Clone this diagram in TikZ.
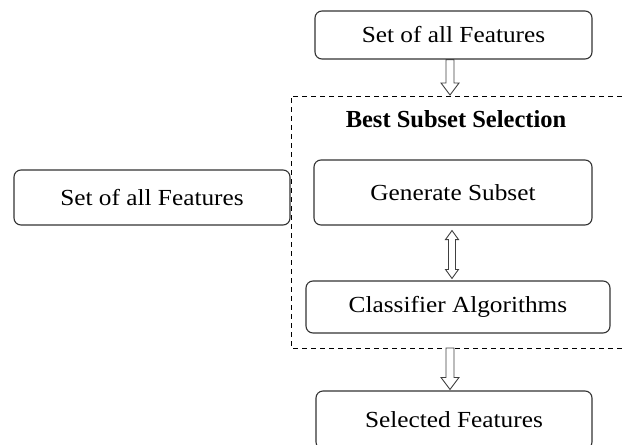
\documentclass[tikz,border=0pt]{standalone}
\usepackage{fontspec}
\setmainfont{Liberation Serif}
\newfontfamily\boxfont{Liberation Serif}[FakeStretch=1.1]
\usetikzlibrary{calc}

% hollow block arrow pointing down, from #1 to the tip at #2
\newcommand{\downblock}[2]{%
  \draw[hollow] let \p1=(#1), \p2=(#2) in
    (\x1-4pt,\y1) -- (\x1-4pt,\y2+12pt) -- (\x1-9pt,\y2+12pt) -- (\x1,\y2)
    -- (\x1+9pt,\y2+12pt) -- (\x1+4pt,\y2+12pt) -- (\x1+4pt,\y1) -- cycle;}
% hollow two-headed block arrow between the tips #1 (upper) and #2 (lower)
\newcommand{\bothblock}[2]{%
  \draw[hollow] let \p1=(#1), \p2=(#2) in
    (\x1,\y1) -- (\x1+6.5pt,\y1-9pt) -- (\x1+3.5pt,\y1-9pt) -- (\x1+3.5pt,\y2+9pt)
    -- (\x1+6.5pt,\y2+9pt) -- (\x1,\y2) -- (\x1-6.5pt,\y2+9pt) -- (\x1-3.5pt,\y2+9pt)
    -- (\x1-3.5pt,\y1-9pt) -- (\x1-6.5pt,\y1-9pt) -- cycle;}

\tikzset{
  box/.style={draw=black!80, line width=1.1pt, rounded corners=7pt, fill=white,
    inner sep=0pt, font=\boxfont\fontsize{23}{28}\selectfont, text=black},
  hollow/.style={draw=black!75, line width=0.9pt, fill=white, line join=miter},
  group/.style={draw=black, line width=1pt, dash pattern=on 5pt off 4pt},
}

\begin{document}
\begin{tikzpicture}[x=1pt,y=-1pt]
  \useasboundingbox (0,0) rectangle (622,445);

  % dashed frame of the selection stage (runs off the right edge)
  \draw[group] (640,96) -- (291,96) -- (291,348) -- (640,348);
  \node[font=\bfseries\fontsize{24.5}{28}\selectfont] (title) at (456,119) {Best Subset Selection};

  \node[box, minimum width=277pt, minimum height=48pt] (top) at (453.5,35) {Set of all Features};
  \node[box, minimum width=276pt, minimum height=55pt] (left) at (152,197.5) {Set of all Features};
  \node[box, minimum width=278pt, minimum height=65pt] (gen) at (453,192.5) {Generate Subset};
  \node[box, minimum width=304pt, minimum height=52pt] (cls) at (458,307) {Classifier Algorithms};
  \node[box, minimum width=276pt, minimum height=58pt] (sel) at (454,420) {Selected Features};

  \coordinate (grouptop) at (450,95);
  \coordinate (groupbottom) at (450,348);

  \downblock{$(top.south)+(-3.5,0)$}{grouptop}
  \bothblock{$(gen.south)+(-1,5)$}{$(cls.north)+(-6,-2)$}
  \downblock{groupbottom}{$(sel.north)+(-4,-1)$}
\end{tikzpicture}
\end{document}
